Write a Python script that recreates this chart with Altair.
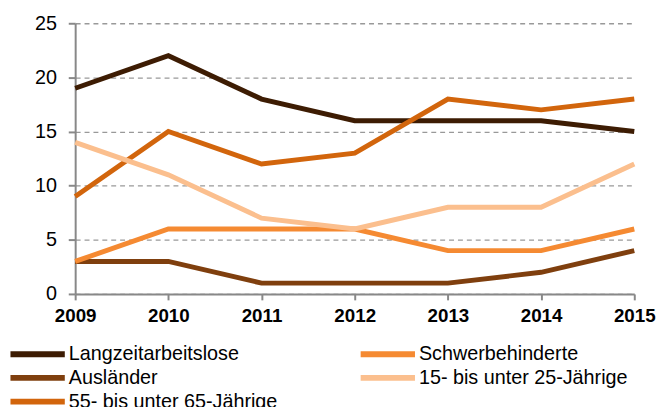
import altair as alt
import pandas as pd

years = ["2009", "2010", "2011", "2012", "2013", "2014", "2015"]
# order chosen so the column-major legend reads like the reference
series = [
    "Langzeitarbeitslose",
    "Ausländer",
    "55- bis unter 65-Jährige",
    "Schwerbehinderte",
    "15- bis unter 25-Jährige",
]
colors = ["#3d1c03", "#7f3f0e", "#d2650c", "#f58a32", "#fbbf8e"]

langzeit = [19, 22, 18, 16, 16, 16, 15]
auslaender = [3, 3, 1, 1, 1, 2, 4]
alt5565 = [9, 15, 12, 13, 18, 17, 18]
schwer = [3, 6, 6, 6, 4, 4, 6]
jung = [14, 11, 7, 6, 8, 8, 12]

values = [langzeit, auslaender, alt5565, schwer, jung]
rows = []
for s, vals in zip(series, values):
    for y, v in zip(years, vals):
        rows.append({"Jahr": y, "Gruppe": s, "Wert": v})
df = pd.DataFrame(rows)

FONT = "Liberation Sans"

chart = (
    alt.Chart(df)
    .mark_line(strokeWidth=5, strokeCap="butt", strokeJoin="miter")
    .encode(
        x=alt.X(
            "Jahr:O",
            sort=years,
            scale=alt.Scale(padding=0),
            axis=alt.Axis(
                title=None,
                labelAngle=0,
                labelFontWeight="bold",
                labelFontSize=19,
                labelColor="#000000",
                labelFont=FONT,
                labelPadding=7,
                tickSize=6,
                tickColor="#888888",
                tickWidth=2,
                domainColor="#888888",
                domainWidth=2,
                grid=False,
                labelFlush=False,
            ),
        ),
        y=alt.Y(
            "Wert:Q",
            scale=alt.Scale(domain=[0, 25], nice=False, zero=True),
            axis=alt.Axis(
                title=None,
                values=[0, 5, 10, 15, 20, 25],
                labelFontSize=20,
                labelFont=FONT,
                labelColor="#000000",
                labelPadding=12,
                tickSize=7,
                tickColor="#888888",
                tickWidth=2,
                domainColor="#888888",
                domainWidth=2,
                grid=True,
                gridColor="#999999",
                gridDash=[5, 4],
                gridWidth=1.3,
            ),
        ),
        color=alt.Color(
            "Gruppe:N",
            sort=series,
            scale=alt.Scale(domain=series, range=colors),
            legend=alt.Legend(
                title=None,
                orient="none",
                legendX=-48,
                legendY=325,
                padding=0,
                columns=2,
                columnPadding=71.5,
                rowPadding=0,
                symbolType="M-5,0H5",
                symbolSize=121,
                symbolStrokeWidth=6,
                labelFontSize=20,
                labelFont=FONT,
                labelColor="#000000",
                labelOffset=21.5,
                labelLimit=400,
            ),
        ),
    )
    .properties(
        width=566,
        height=274,
        autosize=alt.AutoSizeParams(type="none"),
        padding={"left": 68, "top": 13, "right": 23, "bottom": 112},
    )
    .configure_view(stroke=None)
)

chart.save("out.html", embed_options={"renderer": "svg", "actions": False})
